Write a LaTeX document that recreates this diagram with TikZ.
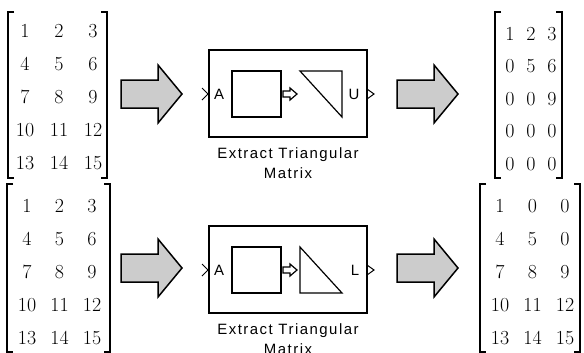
\documentclass[tikz,border=0pt]{standalone}
\usepackage{fontspec}
\newfontfamily\lblfont[LetterSpace=10]{Liberation Sans}
\newfontfamily\portfont{Liberation Sans}
\usepackage{tikz}
\usetikzlibrary{matrix,positioning}

\begin{document}
\begin{tikzpicture}[x=1bp,y=-1bp,
  numgrid/.style={matrix of nodes, nodes={inner sep=0pt, minimum width=20bp,
      text height=14bp, text depth=0pt, font=\fontsize{20}{22}\selectfont}},
  brk/.style={line width=1.6bp},
  fatarrow/.style={draw=black, line width=1.5bp, fill=gray!40, line join=miter},
  blk/.style={draw, line width=1.6bp, minimum width=158bp, minimum height=87bp, inner sep=0pt},
  inbox/.style={draw, line width=1.3bp, minimum width=49bp, minimum height=46bp, inner sep=0pt},
  thinline/.style={line width=1.2bp},
  port/.style={font=\portfont\fontsize{15}{18}\selectfont, inner sep=0pt},
  lbl/.style={font=\lblfont\fontsize{15}{20}\selectfont, align=center, inner sep=0pt}]
  \useasboundingbox (0,0) rectangle (584,352);

  % input and output matrices
  \matrix (inU) [numgrid, column sep=14bp, row sep=19bp] at (59,96)
    {1 & 2 & 3\\ 4 & 5 & 6\\ 7 & 8 & 9\\ 10 & 11 & 12\\ 13 & 14 & 15\\};
  \matrix (outU) [numgrid, column sep=1bp, row sep=18.5bp] at (531,98)
    {1 & 2 & 3\\ 0 & 5 & 6\\ 0 & 0 & 9\\ 0 & 0 & 0\\ 0 & 0 & 0\\};
  \matrix (inL) [numgrid, column sep=12.5bp, row sep=19bp] at (59.5,271.5)
    {1 & 2 & 3\\ 4 & 5 & 6\\ 7 & 8 & 9\\ 10 & 11 & 12\\ 13 & 14 & 15\\};
  \matrix (outL) [numgrid, column sep=12.5bp, row sep=19bp] at (532.5,271.5)
    {1 & 0 & 0\\ 4 & 5 & 0\\ 7 & 8 & 9\\ 10 & 11 & 12\\ 13 & 14 & 15\\};
  \foreach \l/\r/\t/\b in {8/107/12/178, 7/110/184/352, 495/562/12/178, 480/580/184/352} {
    \draw[brk] (\l+6,\t) -- (\l,\t) -- (\l,\b) -- (\l+6,\b);
    \draw[brk] (\r-6,\t) -- (\r,\t) -- (\r,\b) -- (\r-6,\b);
  }

  % big arrows
  \foreach \x/\y in {121/94, 397/94, 121/268, 397/268}
    \draw[fatarrow] (\x,\y) ++(0,-14) -- ++(37,0) -- ++(0,-15) -- ++(24,29)
      -- ++(-24,29) -- ++(0,-15) -- ++(-37,0) -- cycle;

  % upper block
  \node[blk] (extU) at (288,93.5) {};
  \node[inbox] (sqU) at (256.5,94) {};
  \draw[thinline] (300,71) -- (342,71) -- (342,117) -- cycle;
  \draw[thinline] (283,91) -- ++(7,0) -- ++(0,-3) -- (297,94) -- (290,100) -- ++(0,-3) -- (283,97) -- cycle;
  \node[port] (portAU) at (219,94) {A};
  \node[port] (portU) at (354,94) {U};
  \draw[line width=1bp] (202,88) -- (208,94) -- (202,100);
  \draw[line width=1bp] (367,89) -- (374,94) -- (367,99);
  \node[lbl] (capU) at (288,163) {Extract Triangular\\Matrix};

  % lower block
  \node[blk] (extL) at (288,269.5) {};
  \node[inbox] (sqL) at (256.5,270) {};
  \draw[thinline] (300,247) -- (300,293) -- (342,293) -- cycle;
  \draw[thinline] (283,267) -- ++(7,0) -- ++(0,-3) -- (297,270) -- (290,276) -- ++(0,-3) -- (283,273) -- cycle;
  \node[port] (portAL) at (219,270) {A};
  \node[port] (portL) at (355,270) {L};
  \draw[line width=1bp] (202,264) -- (208,270) -- (202,276);
  \draw[line width=1bp] (367,265) -- (374,270) -- (367,275);
  \node[lbl] (capL) at (288,339) {Extract Triangular\\Matrix};
\end{tikzpicture}
\end{document}
